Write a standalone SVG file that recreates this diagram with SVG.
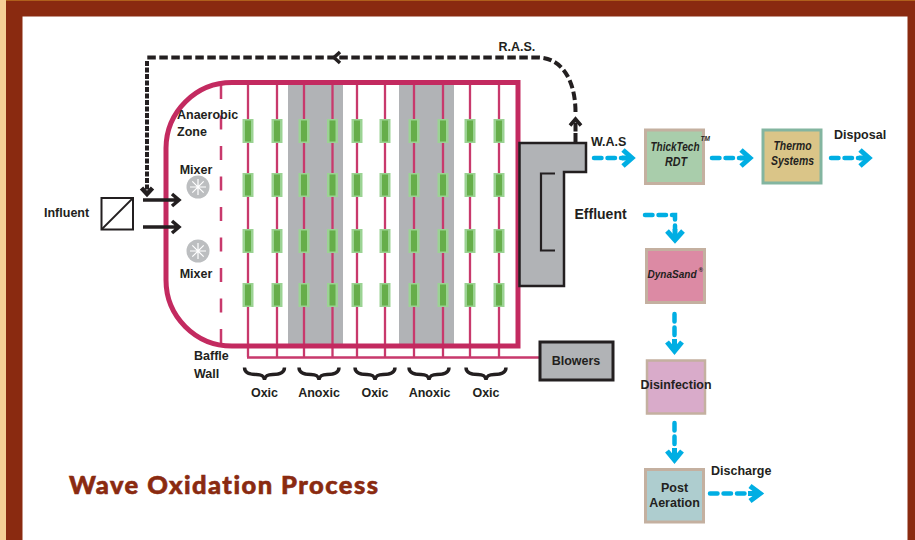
<svg xmlns="http://www.w3.org/2000/svg" width="915" height="540" viewBox="0 0 915 540">
<style>
text{font-family:"Liberation Sans",Arial,sans-serif;fill:#231f20;font-weight:700;font-size:12.500px}
.it{font-style:italic;font-size:12px;text-anchor:middle}
.mid{text-anchor:middle}
.pipe{fill:none;stroke:#c8396c;stroke-width:2.300}
.gray{fill:#b1b3b6}
.dfo{fill:#9bd393}
.dfi{fill:#66ae4a}
.blue{fill:none;stroke:#00aee3;stroke-width:4.500;stroke-dasharray:7.500 6;stroke-linecap:round}
.bh{fill:none;stroke:#00aee3;stroke-width:5}
.blk{fill:none;stroke:#231f20}
</style>
<defs>
<g id="dif"><rect x="-5.500" y="-12" width="11" height="24" class="dfo"/><rect x="-3" y="-10.500" width="6" height="21" class="dfi"/></g>
<g id="mx"><circle r="11.500" fill="#bcbec0"/><path d="M0-8V8M-8 0H8M-5.700-5.700 5.700 5.700M-5.700 5.700 5.700-5.700" stroke="#fff" stroke-width="1.200"/></g>
<path id="brace" d="M-20 0C-20 6-14 7-8 7C-3 7-1 8 0 12C1 8 3 7 8 7C14 7 20 6 20 0" fill="none" stroke="#231f20" stroke-width="3.400"/>
</defs>
<rect width="915" height="540" fill="#fff"/>
<g id="frame">
<rect width="915" height="16.500" fill="#8a2a10"/>
<rect width="6" height="540" fill="#f5ce95"/>
<rect x="6" width="16.500" height="540" fill="#8a2a10"/>
<rect x="907.500" width="7.500" height="540" fill="#8a2a10"/>
<rect x="6" width="909" height="1" fill="#b0601c"/>
</g>
<g id="tank">
<rect x="288" y="84" width="55" height="261" class="gray"/>
<rect x="399" y="84" width="55" height="261" class="gray"/>
<path d="M248 83V357M277 83V357M304 83V357M332.500 83V357M357 83V357M385 83V357M414 83V357M443 83V357M470 83V357M499 83V357M247 357.500H540" class="pipe"/>
<path d="M221 85V346" fill="none" stroke="#c8396c" stroke-width="2.500" stroke-dasharray="14 16.500"/>
<path d="M232 82.500H518V346H232A66 66 0 0 1 166 280V148A66 66 0 0 1 232 82.500Z" fill="none" stroke="#c32a60" stroke-width="5"/>
</g>
<g id="diffusers">
<use href="#dif" x="248" y="131"/><use href="#dif" x="277" y="131"/><use href="#dif" x="304" y="131"/><use href="#dif" x="332.500" y="131"/><use href="#dif" x="357" y="131"/><use href="#dif" x="385" y="131"/><use href="#dif" x="414" y="131"/><use href="#dif" x="443" y="131"/><use href="#dif" x="470" y="131"/><use href="#dif" x="499" y="131"/>
<use href="#dif" x="248" y="185"/><use href="#dif" x="277" y="185"/><use href="#dif" x="304" y="185"/><use href="#dif" x="332.500" y="185"/><use href="#dif" x="357" y="185"/><use href="#dif" x="385" y="185"/><use href="#dif" x="414" y="185"/><use href="#dif" x="443" y="185"/><use href="#dif" x="470" y="185"/><use href="#dif" x="499" y="185"/>
<use href="#dif" x="248" y="241"/><use href="#dif" x="277" y="241"/><use href="#dif" x="304" y="241"/><use href="#dif" x="332.500" y="241"/><use href="#dif" x="357" y="241"/><use href="#dif" x="385" y="241"/><use href="#dif" x="414" y="241"/><use href="#dif" x="443" y="241"/><use href="#dif" x="470" y="241"/><use href="#dif" x="499" y="241"/>
<use href="#dif" x="248" y="295"/><use href="#dif" x="277" y="295"/><use href="#dif" x="304" y="295"/><use href="#dif" x="332.500" y="295"/><use href="#dif" x="357" y="295"/><use href="#dif" x="385" y="295"/><use href="#dif" x="414" y="295"/><use href="#dif" x="443" y="295"/><use href="#dif" x="470" y="295"/><use href="#dif" x="499" y="295"/>
</g>
<g id="clarifier">
<path d="M519.500 143H586V172H564V286H519.500Z" class="gray" stroke="#231f20" stroke-width="2.500"/>
<path d="M555 173.500H541V250.500H555" class="blk" stroke-width="2.200"/>
</g>
<g id="mixer-top"><use href="#mx" x="198" y="187"/><text x="196" y="174" class="mid">Mixer</text></g>
<g id="mixer-bottom"><use href="#mx" x="198" y="251"/><text x="196" y="278" class="mid">Mixer</text></g>
<g id="influent"><rect x="101.500" y="198" width="31.500" height="31.500" fill="#fff" stroke="#231f20" stroke-width="2"/><path d="M102 229 133 198" class="blk" stroke-width="1.800"/><text x="44" y="217">Influent</text></g>
<g id="blowers"><rect x="540" y="342" width="73" height="38" class="gray" stroke="#231f20" stroke-width="3"/><text x="576" y="365" class="mid">Blowers</text></g>
<g id="thicktech"><rect x="645.500" y="130" width="58" height="53.500" fill="#a9cdab" stroke="#c4b0a0" stroke-width="3"/><text x="675" y="151" class="it" textLength="49" lengthAdjust="spacingAndGlyphs">ThickTech</text><text x="676" y="166" class="it" textLength="22" lengthAdjust="spacingAndGlyphs">RDT</text><text x="700.500" y="141" style="font-size:6.500px;font-style:italic">TM</text></g>
<g id="thermo"><rect x="763" y="130" width="58" height="53" fill="#dac588" stroke="#83b5a0" stroke-width="3"/><text x="792.500" y="150" class="it" textLength="38" lengthAdjust="spacingAndGlyphs">Thermo</text><text x="792.500" y="165" class="it" textLength="43" lengthAdjust="spacingAndGlyphs">Systems</text></g>
<g id="dynasand"><rect x="646.500" y="249.500" width="58" height="53" fill="#dc8aa4" stroke="#c4b0a0" stroke-width="3"/><text x="672" y="278" class="it" style="font-size:11px" textLength="49" lengthAdjust="spacingAndGlyphs">DynaSand</text><text x="698.500" y="272" style="font-size:6px;font-style:italic">®</text></g>
<g id="disinfection"><rect x="647" y="360.500" width="58" height="53" fill="#d9abca" stroke="#c4b0a0" stroke-width="2.500"/><text x="676" y="389" class="mid" style="font-size:13px" textLength="71" lengthAdjust="spacingAndGlyphs">Disinfection</text></g>
<g id="post-aeration"><rect x="645.500" y="469.500" width="58" height="52.500" fill="#aecdcf" stroke="#c4b0a0" stroke-width="3"/><text x="674.500" y="492" class="mid">Post</text><text x="674.500" y="507" class="mid">Aeration</text></g>
<g id="connectors">
<path d="M575.500 112C575.500 85 565 58 538 57.500H147" fill="none" stroke="#231f20" stroke-width="4" stroke-dasharray="8.500 3.500"/>
<path d="M575.500 142V122" fill="none" stroke="#231f20" stroke-width="4" stroke-dasharray="9 1.500"/>
<path d="M570 125.500 575.500 119 581 125.500" class="blk" stroke-width="3.500"/>
<path d="M147 61V190" fill="none" stroke="#231f20" stroke-width="4" stroke-dasharray="5 1.500"/>
<path d="M340 52 334 57.500 340 63" class="blk" stroke-width="3.500"/>
<path d="M141.500 188 147 194 152.500 188" class="blk" stroke-width="4.500"/>
<path d="M143 200H178M172 194 179 200 172 206M143 227H178M172 221 179 227 172 233" class="blk" stroke-width="3.500"/>
<path d="M594 158H622" class="blue"/><path d="M623 150 632 158 623 166" class="bh"/><path d="M622 158H630" class="bh"/>
<path d="M712 158H740" class="blue"/><path d="M741 150 750 158 741 166" class="bh"/><path d="M740 158H748" class="bh"/>
<path d="M831 158H859" class="blue"/><path d="M860 150 869 158 860 166" class="bh"/><path d="M859 158H867" class="bh"/>
<path d="M645 215H675V229" class="blue"/><path d="M667 231 675 240 683 231" class="bh"/><path d="M675 229V238" class="bh"/>
<path d="M674.500 314V338" class="blue"/><path d="M667 342 674.500 351 682 342" class="bh"/><path d="M674.500 339V349" class="bh"/>
<path d="M674.500 423V447" class="blue"/><path d="M667 451 674.500 460 682 451" class="bh"/><path d="M674.500 448V458" class="bh"/>
<path d="M710 493.500H748" class="blue"/><path d="M750 486 760 493.500 750 501" class="bh"/><path d="M748 493.500H758" class="bh"/>
</g>
<g id="labels">
<text x="177" y="119">Anaerobic</text><text x="177" y="136">Zone</text>
<text x="194" y="360">Baffle</text><text x="194" y="378">Wall</text>
<use href="#brace" x="264.500" y="367.500"/><use href="#brace" x="319" y="367.500"/><use href="#brace" x="375" y="367.500"/><use href="#brace" x="429" y="367.500"/><use href="#brace" x="486" y="367.500"/>
<text x="264.500" y="397" class="mid">Oxic</text><text x="319" y="397" class="mid">Anoxic</text><text x="375" y="397" class="mid">Oxic</text><text x="429.500" y="397" class="mid">Anoxic</text><text x="486" y="397" class="mid">Oxic</text>
<text x="498.500" y="51">R.A.S.</text>
<text x="591" y="146">W.A.S</text>
<text x="574.500" y="219" style="font-size:14px">Effluent</text>
<text x="834" y="139">Disposal</text>
<text x="711" y="475">Discharge</text>
<text x="69" y="494" style="font-size:25.500px;font-weight:900;fill:#8a2a10;stroke:#8a2a10;stroke-width:.6px;font-family:Lato,sans-serif;font-variant-ligatures:none" textLength="309" lengthAdjust="spacing">Wave Oxidation Process</text>
</g>
</svg>
